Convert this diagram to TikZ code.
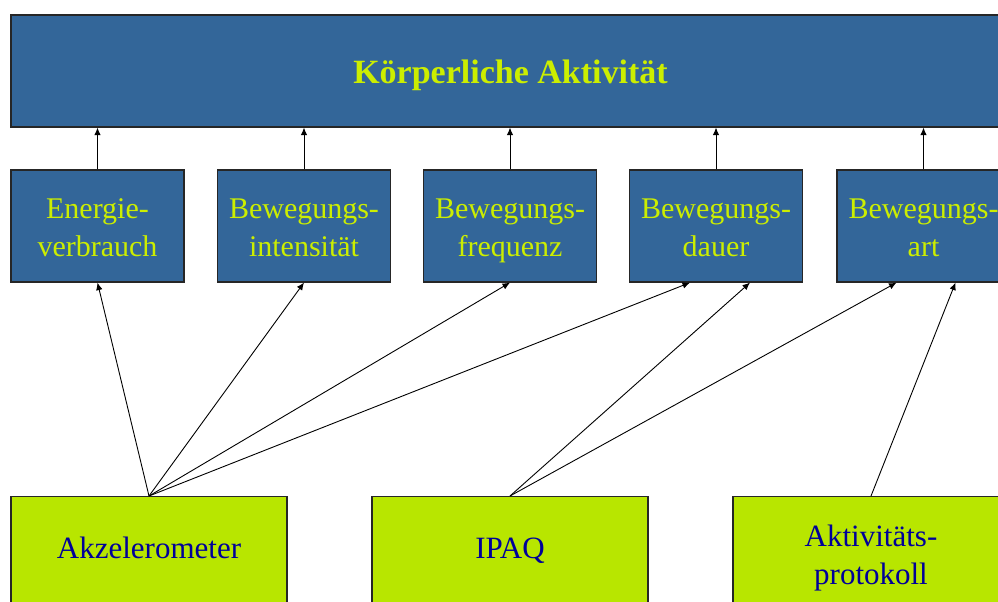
\documentclass[tikz,border=0pt]{standalone}
\usepackage{fontspec}
\setmainfont{Liberation Serif}
\usetikzlibrary{arrows.meta,calc}
\usepackage{xcolor}
\definecolor{boxblue}{RGB}{51,102,153}
\definecolor{boxlime}{RGB}{184,230,0}
\definecolor{txtlime}{RGB}{204,238,0}
\definecolor{txtnavy}{RGB}{0,0,153}
\newcommand{\zstrut}{\rule[-9pt]{0pt}{41pt}}

\begin{document}
\begin{tikzpicture}[
    x=1pt, y=-1pt,
    top/.style={draw=black!85, line width=1.2pt, fill=boxblue, text=txtlime, font=\fontsize{34}{40}\selectfont\bfseries, minimum width=999pt, minimum height=112pt, inner sep=0pt, text height=30pt, text depth=6pt},
    dim/.style={draw=black!85, line width=1.2pt, fill=boxblue, text=txtlime, align=center, font=\fontsize{30}{37.5}\selectfont, minimum width=173pt, minimum height=112pt, inner sep=0pt, execute at end node=\rule[-9pt]{0pt}{37pt}},
    meth/.style={draw=black!85, line width=1.2pt, fill=boxlime, text=txtnavy, align=center, font=\fontsize{31}{38}\selectfont, minimum width=276pt, inner sep=0pt, anchor=north, execute at end node=\strut},
    pfeil/.style={-{Latex[length=7.5pt,width=6.5pt]}, line width=0.9pt}
]
\useasboundingbox (0,0) rectangle (998,602);
\clip (0,0) rectangle (998,602);

\node[top] (koerper) at (510.5,71) {Körperliche Aktivität};

\node[dim] (energie) at (97.5,226) {\zstrut Energie-\\verbrauch};
\node[dim] (intensitaet) at (304,226) {\zstrut Bewegungs-\\intensität};
\node[dim] (frequenz) at (510,226) {\zstrut Bewegungs-\\frequenz};
\node[dim] (dauer) at (716,226) {\zstrut Bewegungs-\\dauer};
\node[dim] (art) at (923.5,226) {\zstrut Bewegungs-\\art};

\node[meth, minimum height=109pt] (akzel) at (149,496) {\strut Akzelerometer};
\node[meth, minimum height=109pt] (ipaq) at (510,496) {\strut IPAQ};
\node[meth, minimum height=122pt] (protokoll) at (871,496) {\strut Aktivitäts-\\protokoll};

\draw[pfeil] (energie.north) -- (energie.north |- koerper.south);
\draw[pfeil] (intensitaet.north) -- (intensitaet.north |- koerper.south);
\draw[pfeil] (frequenz.north) -- (frequenz.north |- koerper.south);
\draw[pfeil] (dauer.north) -- (dauer.north |- koerper.south);
\draw[pfeil] (art.north) -- (art.north |- koerper.south);

\draw[pfeil] (akzel.north) -- (energie.south);
\draw[pfeil] (akzel.north) -- (intensitaet.south);
\draw[pfeil] (akzel.north) -- (frequenz.south);
\draw[pfeil] (akzel.north) -- ($(dauer.south)+(-26,0)$);
\draw[pfeil] (ipaq.north) -- ($(dauer.south)+(34,0)$);
\draw[pfeil] (ipaq.north) -- ($(art.south)+(-27,0)$);
\draw[pfeil] (protokoll.north) -- ($(art.south)+(32,0)$);
\end{tikzpicture}
\end{document}
